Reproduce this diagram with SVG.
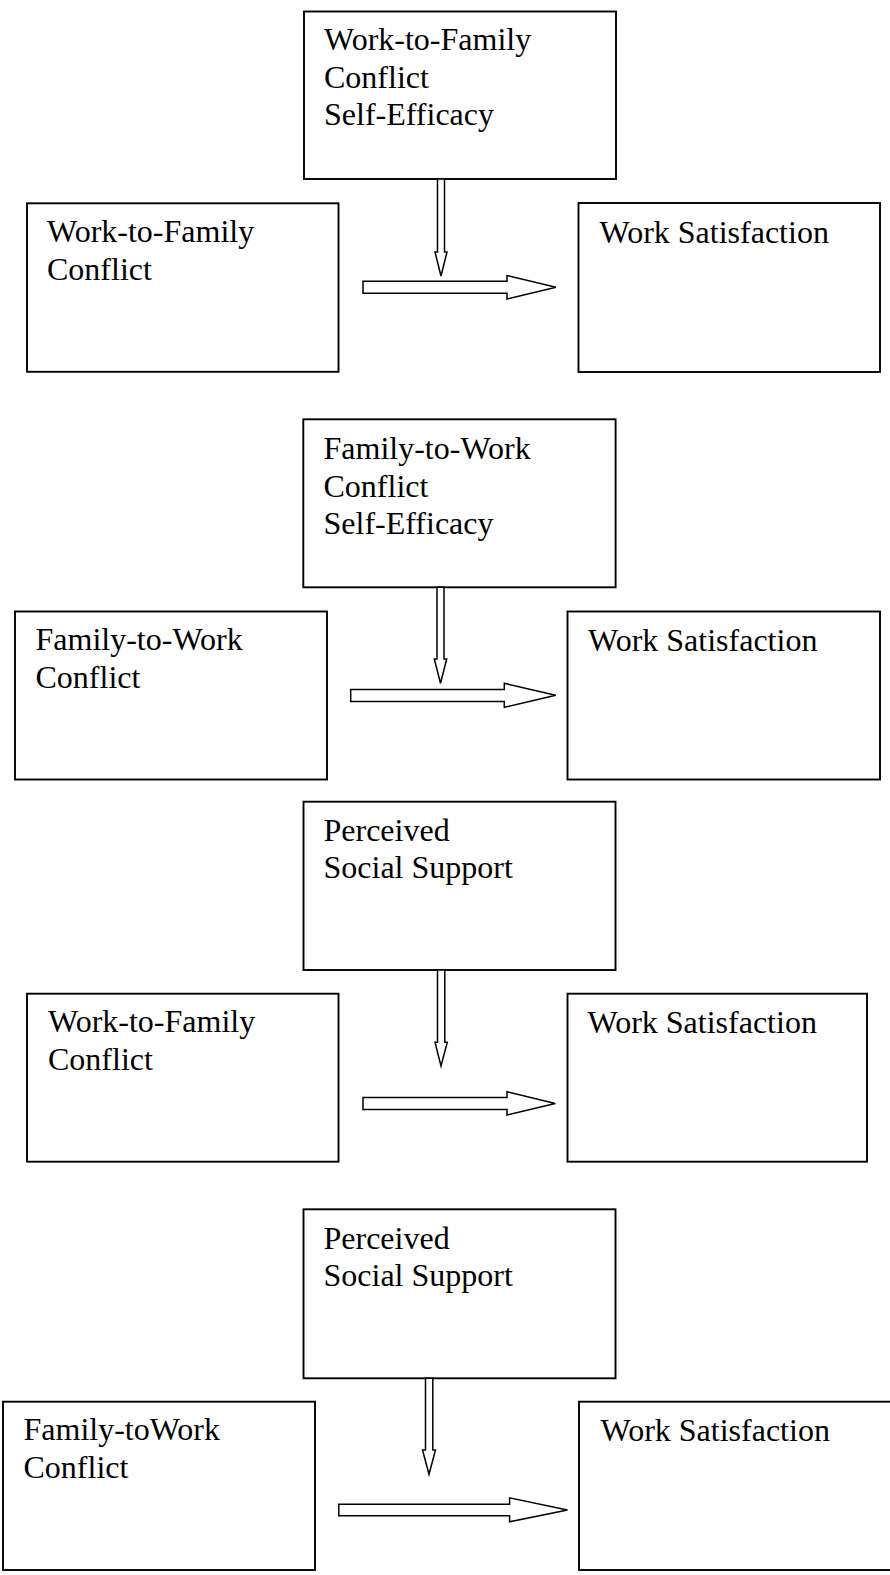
<svg xmlns="http://www.w3.org/2000/svg" width="890" height="1575" viewBox="0 0 890 1575">
<style>
  .box { fill: #ffffff; stroke: #000000; stroke-width: 1.9; }
  .lbl { font-family: "Liberation Serif", "Times New Roman", serif; font-size: 32px; fill: #000000; }
  .arr { fill: #ffffff; stroke: #000000; stroke-width: 1.5; stroke-linejoin: miter; }
</style>
<rect width="890" height="1575" fill="#ffffff"/>

<!-- Block 1 -->
<g id="t1">
  <rect class="box" x="304" y="11.5" width="312" height="167.5"/>
  <text class="lbl" x="324" y="50"><tspan x="324">Work-to-Family</tspan><tspan x="324" dy="37.5">Conflict</tspan><tspan x="324" dy="37.5">Self-Efficacy</tspan></text>
</g>
<g id="l1">
  <rect class="box" x="27" y="203.3" width="311.5" height="168.5"/>
  <text class="lbl" x="47" y="242"><tspan x="47">Work-to-Family</tspan><tspan x="47" dy="37.5">Conflict</tspan></text>
</g>
<g id="r1">
  <rect class="box" x="578.5" y="203" width="301.5" height="169"/>
  <text class="lbl" x="599.5" y="243">Work Satisfaction</text>
</g>

<!-- Block 2 -->
<g id="t2">
  <rect class="box" x="303.3" y="419.3" width="312.3" height="168"/>
  <text class="lbl" x="323.5" y="459"><tspan x="323.5">Family-to-Work</tspan><tspan x="323.5" dy="37.5">Conflict</tspan><tspan x="323.5" dy="37.5">Self-Efficacy</tspan></text>
</g>
<g id="l2">
  <rect class="box" x="15" y="611.5" width="312" height="168"/>
  <text class="lbl" x="35.5" y="650"><tspan x="35.5">Family-to-Work</tspan><tspan x="35.5" dy="37.5">Conflict</tspan></text>
</g>
<g id="r2">
  <rect class="box" x="567.5" y="611.5" width="312.5" height="168"/>
  <text class="lbl" x="588" y="651">Work Satisfaction</text>
</g>

<!-- Block 3 -->
<g id="t3">
  <rect class="box" x="303.5" y="801.7" width="312" height="168.3"/>
  <text class="lbl" x="323.5" y="840.5"><tspan x="323.5">Perceived</tspan><tspan x="323.5" dy="37.5">Social Support</tspan></text>
</g>
<g id="l3">
  <rect class="box" x="27" y="993.7" width="311.5" height="168"/>
  <text class="lbl" x="48" y="1032"><tspan x="48">Work-to-Family</tspan><tspan x="48" dy="37.5">Conflict</tspan></text>
</g>
<g id="r3">
  <rect class="box" x="567.5" y="993.7" width="299.5" height="168"/>
  <text class="lbl" x="587.5" y="1032.5">Work Satisfaction</text>
</g>

<!-- Block 4 -->
<g id="t4">
  <rect class="box" x="303.5" y="1209.3" width="312" height="169"/>
  <text class="lbl" x="323.5" y="1248.5"><tspan x="323.5">Perceived</tspan><tspan x="323.5" dy="37.5">Social Support</tspan></text>
</g>
<g id="l4">
  <rect class="box" x="3" y="1401.7" width="312" height="168.3"/>
  <text class="lbl" x="23.5" y="1440"><tspan x="23.5">Family-toWork</tspan><tspan x="23.5" dy="37.5">Conflict</tspan></text>
</g>
<g id="r4">
  <rect class="box" x="579" y="1401.7" width="320" height="168.3"/>
  <text class="lbl" x="600.5" y="1441">Work Satisfaction</text>
</g>

<!-- Connectors -->
<g id="connectors">
  <polygon class="arr" points="437.5,179 437.5,252 435,252 441,276 447,252 444.5,252 444.5,179"/>
  <polygon class="arr" points="363,281.3 507,281.3 507,275.6 556,287.3 507,299 507,293.3 363,293.3"/>

  <polygon class="arr" points="437,587.3 437,659 434.3,659 440.5,683.3 446.7,659 444,659 444,587.3"/>
  <polygon class="arr" points="350.7,689.4 504.3,689.4 504.3,683.3 555.7,695.3 504.3,707.3 504.3,701.6 350.7,701.6"/>

  <polygon class="arr" points="437.5,970 437.5,1042.3 435,1042.3 441,1066 447.3,1042.3 444.8,1042.3 444.8,970"/>
  <polygon class="arr" points="363,1097.5 507,1097.5 507,1091.7 555.3,1103.4 507,1115 507,1109.5 363,1109.5"/>

  <polygon class="arr" points="425.5,1378.3 425.5,1450 422.5,1450 429,1474.3 435.5,1450 432.8,1450 432.8,1378.3"/>
  <polygon class="arr" points="338.8,1504.2 509.6,1504.2 509.6,1497.8 567.5,1510 509.6,1521.8 509.6,1515.8 338.8,1515.8"/>
</g>
</svg>
